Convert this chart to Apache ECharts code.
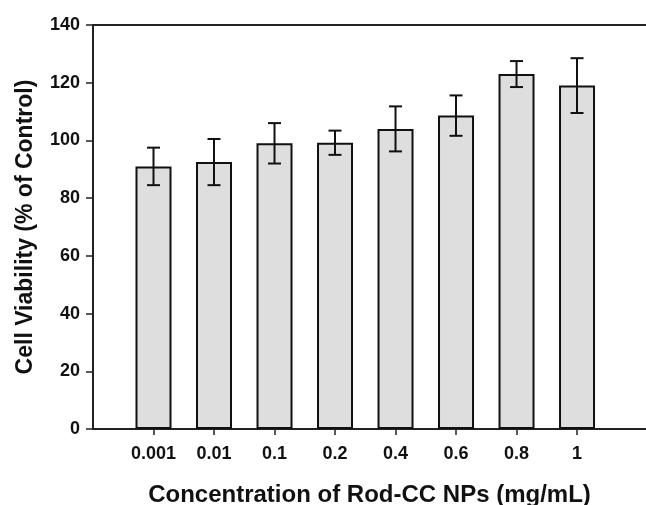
<!DOCTYPE html>
<html>
<head>
<meta charset="utf-8">
<script src="https://cdn.jsdelivr.net/npm/echarts@6/dist/echarts.min.js"></script>
<style>html,body{margin:0;padding:0;background:#fff}#c{width:646px;height:505px}</style>
</head>
<body>
<div id="c"></div>
<script>
const categories = ['0.001', '0.01', '0.1', '0.2', '0.4', '0.6', '0.8', '1'];
const viability = [91, 92.5, 99, 99.2, 104, 108.6, 123, 119];
const errors = [6.5, 8, 7, 4.2, 7.8, 7, 4.5, 9.5];
const yTicks = [0, 20, 40, 60, 80, 100, 120, 140];

const positions = categories.map((c, i) => i + 1);
const barData = positions.map((p, i) => [p, viability[i]]);
const errData = positions.map((p, i) => [p, viability[i] - errors[i], viability[i] + errors[i]]);

const chart = echarts.init(document.getElementById('c'), null, {renderer: 'canvas'});
const font = 'Arial, "Liberation Sans", Helvetica, sans-serif';
const axisColor = '#222';

chart.setOption({
  animation: false,
  grid: {left: 93, right: 0, top: 25, bottom: 76, outerBoundsMode: 'none', containLabel: false},
  xAxis: [{
    type: 'value', min: 0, max: 9.14, position: 'bottom',
    splitLine: {show: false},
    axisLine: {show: true, lineStyle: {color: axisColor, width: 2}},
    axisTick: {show: true, length: 6, lineStyle: {color: axisColor, width: 1.5}, customValues: positions},
    axisLabel: {
      customValues: positions, margin: 16,
      formatter: v => categories[Math.round(v) - 1] || '',
      color: '#111', fontFamily: font, fontWeight: 'bold', fontSize: 18
    },
    name: 'Concentration of Rod-CC NPs (mg/mL)', nameLocation: 'middle', nameGap: 54,
    nameTextStyle: {color: '#111', fontFamily: font, fontWeight: 'bold', fontSize: 24}
  }, {
    type: 'value', min: 0, max: 9.14, position: 'top',
    splitLine: {show: false},
    axisLine: {show: true, lineStyle: {color: axisColor, width: 2}},
    axisTick: {show: false}, axisLabel: {show: false}
  }],
  yAxis: {
    type: 'value', min: 0, max: 140, interval: 20,
    splitLine: {show: false},
    axisLine: {show: true, lineStyle: {color: axisColor, width: 2}},
    axisTick: {show: true, length: 7, lineStyle: {color: axisColor, width: 1.5}},
    axisLabel: {
      margin: 13,
      formatter: v => yTicks.includes(v) ? String(v) : '',
      color: '#111', fontFamily: font, fontWeight: 'bold', fontSize: 18
    },
    name: 'Cell Viability (% of Control)', nameLocation: 'middle', nameGap: 56,
    nameTextStyle: {color: '#111', fontFamily: font, fontWeight: 'bold', fontSize: 23}
  },
  series: [{
    type: 'bar',
    data: barData,
    barWidth: 36,
    itemStyle: {color: '#dedede', borderColor: '#111', borderWidth: 2}
  }, {
    type: 'custom',
    data: errData,
    z: 10,
    renderItem: function (params, api) {
      const x = api.value(0);
      const lo = api.coord([x, api.value(1)]);
      const hi = api.coord([x, api.value(2)]);
      const half = 6.5;
      const style = {stroke: '#111', lineWidth: 2};
      return {
        type: 'group',
        children: [
          {type: 'line', shape: {x1: lo[0], y1: lo[1], x2: hi[0], y2: hi[1]}, style: style},
          {type: 'line', shape: {x1: lo[0] - half, y1: lo[1], x2: lo[0] + half, y2: lo[1]}, style: style},
          {type: 'line', shape: {x1: hi[0] - half, y1: hi[1], x2: hi[0] + half, y2: hi[1]}, style: style}
        ]
      };
    }
  }]
});
</script>
</body>
</html>
